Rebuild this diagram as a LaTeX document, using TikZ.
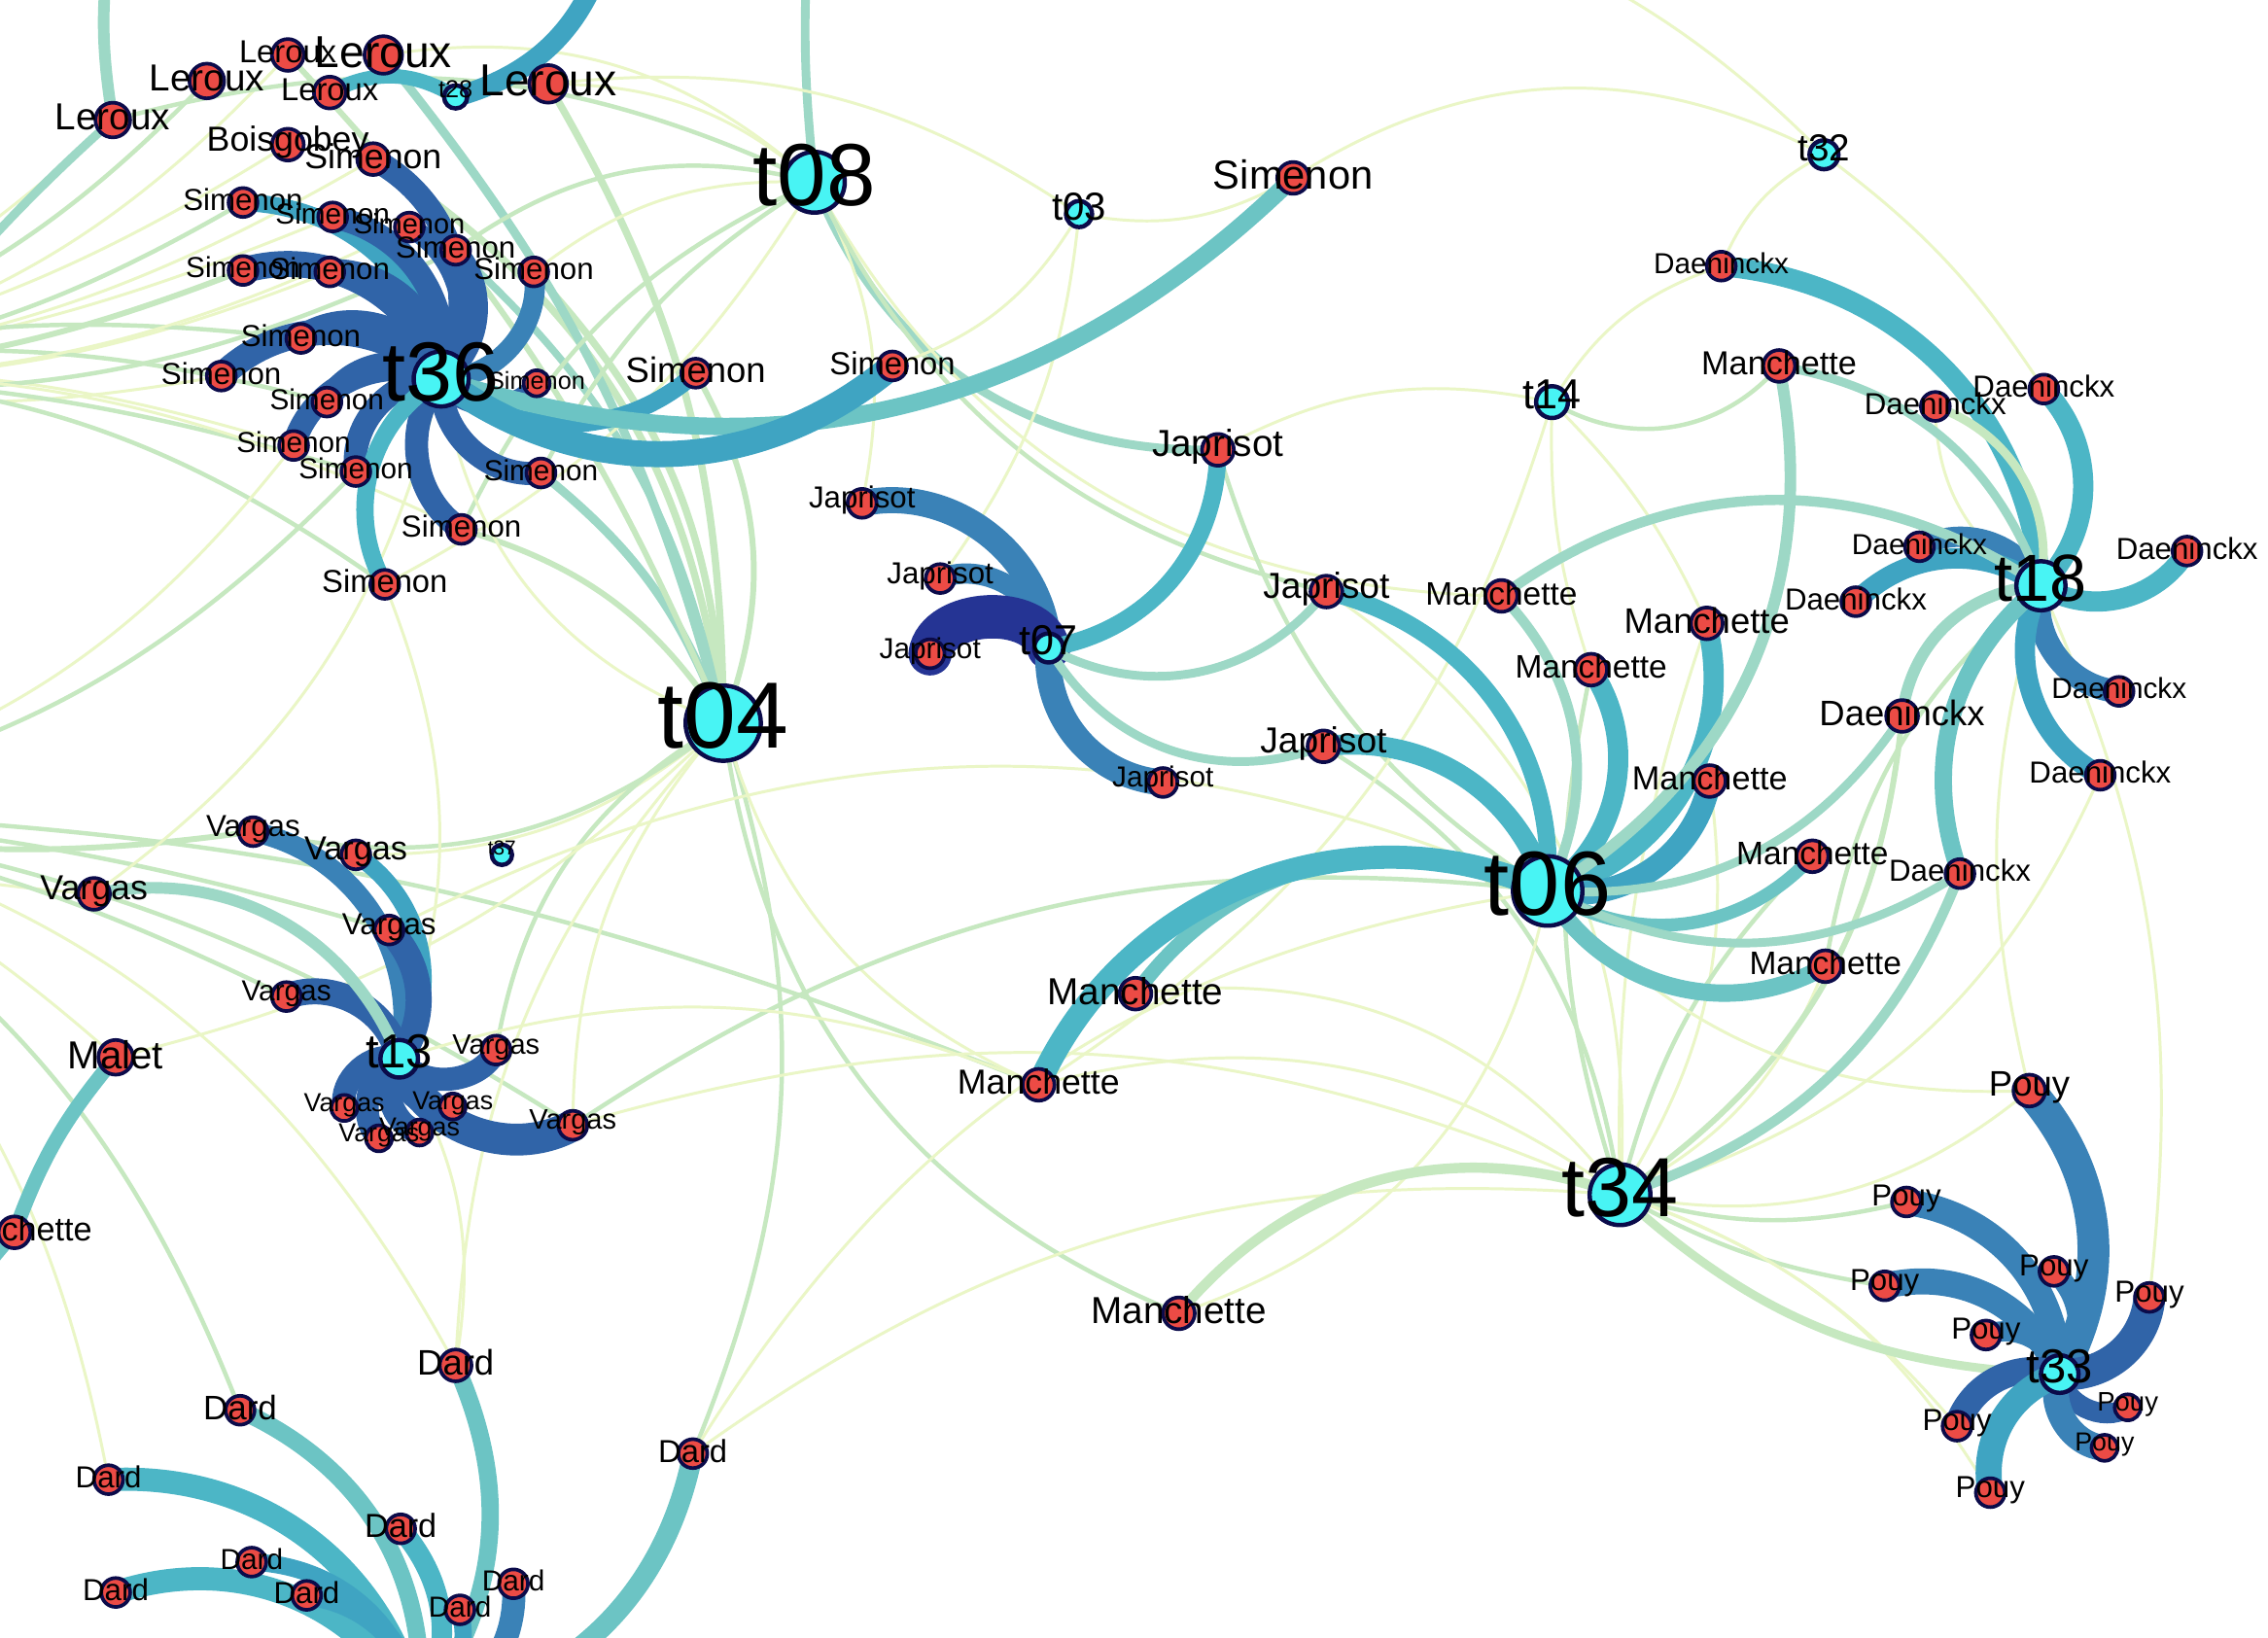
\documentclass[tikz,border=0pt]{standalone}
\usepackage{fontspec}
\setmainfont{Liberation Sans}
\pgfdeclarelayer{bg}\pgfdeclarelayer{pale}\pgfdeclarelayer{thick}\pgfdeclarelayer{lab}
\pgfsetlayers{bg,pale,thick,main,lab}
\definecolor{navy}{HTML}{0B0B4A}
\definecolor{leafred}{HTML}{EC4B45}
\definecolor{hubcyan}{HTML}{48F4F4}
\definecolor{cA}{HTML}{253494}
\definecolor{cB}{HTML}{3064A8}
\definecolor{cC}{HTML}{3A82B7}
\definecolor{cD}{HTML}{3FA4C2}
\definecolor{cE}{HTML}{4CB6C6}
\definecolor{cF}{HTML}{6CC4C4}
\definecolor{cG}{HTML}{9DD8C6}
\definecolor{cH}{HTML}{C6E8C0}
\definecolor{cI}{HTML}{EAF6C6}
\begin{document}
\begin{tikzpicture}[x=1pt,y=-1pt,
  leaf/.style={circle,fill=leafred,draw=navy,line width=2.5pt,inner sep=0pt},
  hub/.style={circle,fill=hubcyan,draw=navy,line width=3pt,inner sep=0pt},
  lab/.style={inner sep=0pt,text=black},
  edge/.style={line cap=round}]
\useasboundingbox (0,0) rectangle (1568,1132);
\begin{pgfonlayer}{bg}\fill[white] (0,0) rectangle (1568,1132);\end{pgfonlayer}
\clip (0,0) rectangle (1568,1132);
% off-canvas anchors
\coordinate (LH1) at (-200,260);
\coordinate (LH2) at (-200,560);
\coordinate (TOPL) at (80,-60);
\coordinate (TOPR) at (420,-40);
\coordinate (TOPC) at (560,-60);
\coordinate (TOPC2) at (700,-50);
\coordinate (BOT) at (290,1185);
\coordinate (LL) at (-40,920);
% hubs
\foreach \n/\x/\y/\r/\fs in {t04/500/500/26/65,t06/1070/616/24/63,t34/1120/826/21/58,t36/305/262/19/58,
  t08/563/126/21/61,t18/1411/405/17/46,t13/276/732/13/33,t33/1424/950/13/33,t07/725/448/10/29,
  t14/1073/278/11/29,t03/746/148/9/27,t32/1261/107/10/26,t28/315/67/8/17,t37/347/591/7/14}{
  \node[hub,minimum size={2*\r}] (\n) at (\x,\y) {};
  \begin{pgfonlayer}{lab}
  \node[lab,font=\fontsize{\fs}{\fs}\selectfont] (\n-l) at (\x,\y-5) {\n};
  \end{pgfonlayer}
}
% leaves
\foreach \n/\x/\y/\r/\fs/\tx in {
  L1/78/83/12/26/Leroux,L2/143/56/12/26/Leroux,L3/199/38/11/22/Leroux,L4/265/38/13/31/Leroux,
  L5/228/64/11/22/Leroux,L6/379/58/13/31/Leroux,B1/199/100/11/24/Boisgobey,
  S1/258/110/11/24/Simenon,S2/168/140/10/21/Simenon,S3/230/150/10/20/Simenon,S4/283/157/10/19.5/Simenon,
  S5/315/173/10/21/Simenon,S6/369/188/10/21/Simenon,S7/168/187/10/20/Simenon,S8/228/188/10/21/Simenon,
  S9/208/234/10/21/Simenon,S10/153/260/10/21/Simenon,S11/226/278/10/20/Simenon,S12/203/308/10/20/Simenon,
  S13/246/326/10/20/Simenon,S14/374/327/10/20/Simenon,S15/319/366/10/21/Simenon,S16/266/404/10/22/Simenon,
  S17/371/265/9/17/Simenon,S18/481/258/10/24.5/Simenon,S19/617/253/10/22/Simenon,S20/894/123/11/28/Simenon,
  J1/842/311/11/26/Japrisot,J2/596/348/10/21/Japrisot,J3/650/400/10/21/Japrisot,J4/643/452/10/20/Japrisot,
  J5/804/541/10/20/Japrisot,J6/917/409/11/25/Japrisot,J7/915/516/11/25/Japrisot,
  M1/1230/253/11/23/Manchette,M2/1038/412/11/22.5/Manchette,M3/1180/431/11/24.5/Manchette,
  M4/1100/463/11/22.5/Manchette,M5/1182/540/11/23/Manchette,M6/1253/592/11/22.5/Manchette,
  M7/1262/668/11/22.5/Manchette,M8/785/687/11/26/Manchette,M9/718/750/11/24/Manchette,
  M10/815/908/11/26/Manchette,M11/10/852/11/23/Manchette,Ma/80/731/12/27/Malet,
  D1/1190/184/10/20/Daeninckx,D2/1413/269/10/21/Daeninckx,D3/1338/281/10/21/Daeninckx,
  D4/1327/378/10/20/Daeninckx,D5/1283/416/10/21/Daeninckx,D6/1512/381/10/21/Daeninckx,
  D7/1465/478/10/20/Daeninckx,D8/1315/495/11/24.5/Daeninckx,D9/1452/536/10/21/Daeninckx,
  D10/1355/604/10/21/Daeninckx,
  V1/175/575/10/21/Vargas,V2/246/591/10/23/Vargas,V3/65/618/11/24/Vargas,V4/269/643/10/21/Vargas,
  V5/198/689/10/20/Vargas,V6/343/726/10/19.5/Vargas,V7/238/766/9/18/Vargas,V8/313/765/9/18/Vargas,
  V9/262/787/9/18/Vargas,V10/290/783/9/18/Vargas,V11/396/778/10/19.5/Vargas,
  P1/1403/754/11/24.5/Pouy,P2/1318/831/10/21/Pouy,P3/1420/879/10/21/Pouy,P4/1303/889/10/21/Pouy,
  P5/1486/897/10/21/Pouy,P6/1373/923/10/21/Pouy,P7/1471/973/9/18.5/Pouy,P8/1353/986/10/21/Pouy,
  P9/1455/1001/9/18/Pouy,P10/1376/1032/10/21/Pouy,
  Dd1/315/944/11/24.5/Dard,Dd2/166/975/10/23.5/Dard,Dd3/479/1005/10/22/Dard,Dd4/75/1023/10/21/Dard,
  Dd5/277/1057/10/23/Dard,Dd6/174/1080/10/20/Dard,Dd7/80/1101/10/21/Dard,Dd8/212/1103/10/21/Dard,
  Dd9/318/1113/10/20/Dard,Dd10/355/1095/10/20/Dard,Dd11/160/1146/10/21/Dard,Dd12/350/1148/10/21/Dard}{
  \node[leaf,minimum size={2*\r}] (\n) at (\x,\y) {};
  \begin{pgfonlayer}{lab}
  \node[lab,font=\fontsize{\fs}{\fs}\selectfont] (\n-l) at (\x,\y-2) {\tx};
  \end{pgfonlayer}
}
% pale background edges
\begin{pgfonlayer}{pale}
\foreach \a/\b/\c/\w/\bd in {
  LH1/L1/cI/2/10,LH1/L2/cH/3/15,LH1/B1/cI/2/10,LH1/S2/cH/3/12,LH1/S3/cI/2/8,LH1/S7/cH/4/10,
  LH1/S8/cI/2/12,LH1/S9/cH/3/-10,LH1/S10/cI/2/10,LH1/S11/cH/3/-12,LH1/S12/cI/2/-10,LH1/S13/cH/3/-8,
  LH1/S4/cI/2/14,LH1/S5/cH/3/16,LH1/L3/cI/2/18,LH1/S15/cI/2/-14,LH1/S16/cH/3/-18,LH1/S1/cI/2/12,
  LH2/V1/cH/4/10,LH2/V3/cI/2/8,LH2/V5/cH/3/-8,LH2/Ma/cI/2/-10,LH2/Dd2/cH/3/-20,LH2/Dd4/cI/2/-20,
  LH2/V4/cH/3/-6,LH2/S12/cI/2/20,LH2/S13/cH/3/18,LH2/Dd1/cI/2/-25,LH2/V11/cH/3/-12,LH2/M9/cH/3/-10,
  TOPL/L1/cG/8/10,L1/LH2/cG/6/18,TOPC/t08/cG/6/5,
  t04/S1/cH/5/25,t04/S6/cH/5/20,t04/S14/cG/6/15,t04/S15/cH/4/20,t04/L6/cH/5/15,t04/L4/cG/6/12,
  t04/S18/cH/4/25,t04/L3/cH/4/10,t04/S5/cG/5/18,t04/V2/cI/2/-20,t04/V6/cH/3/25,t04/V11/cI/2/20,
  t04/Dd3/cH/3/-20,t04/M10/cH/3/30,t04/M9/cI/2/25,t04/Dd1/cI/2/20,t04/V1/cH/3/-25,t04/Ma/cI/2/-15,
  t08/J1/cG/6/35,t08/S6/cI/2/20,t08/S5/cH/3/25,t08/L6/cI/2/20,t08/L4/cI/2/25,t08/M2/cI/2/30,
  t08/S14/cH/3/15,t08/S15/cH/3/20,t08/J2/cI/2/-20,t08/J6/cH/3/25,t08/S16/cI/2/-15,t08/L1/cH/3/20,
  t34/M5/cI/2/20,t34/M6/cH/3/-15,t34/M7/cI/2/20,t34/D8/cH/4/25,t34/D9/cI/2/25,t34/P1/cI/2/25,
  t34/P2/cH/3/15,t34/P4/cH/3/10,t34/M8/cI/2/30,t34/M9/cI/2/25,t34/J7/cH/3/25,t34/J6/cI/2/30,
  t34/Dd3/cI/2/20,t34/V11/cI/2/20,t34/M3/cI/2/-10,t34/M4/cH/3/-15,t34/P8/cI/2/-15,t34/P10/cI/2/-20,
  t06/M10/cI/2/-30,t06/P1/cI/2/25,t06/Dd3/cI/2/25,t06/V11/cH/3/20,t06/V4/cI/2/25,t06/J1/cH/3/-20,
  t14/M1/cH/3/40,t14/M4/cI/2/10,t14/M3/cI/2/-10,t14/J1/cI/2/20,t14/D1/cI/2/-20,t14/M9/cI/2/-20,
  t32/D1/cI/2/20,t32/D2/cI/2/-10,t32/TOPC2/cI/2/30,t32/S20/cI/2/30,
  t03/S20/cI/2/20,t03/S19/cI/2/-20,t03/L6/cI/2/20,t03/J3/cI/2/-15,
  t18/P1/cI/2/15,t18/P5/cI/2/-15,t18/M7/cH/3/20,t18/D3/cI/2/-30,
  t13/S16/cI/2/20,t13/Dd1/cI/2/-20,t13/M9/cI/2/-20,t36/V3/cI/2/-20,t36/t04/cI/2/30}{
  \draw[edge,draw=\c,line width=\w pt] (\a.center) to[bend right=\bd] (\b.center);
}
\end{pgfonlayer}
% main coloured edges
\begin{pgfonlayer}{thick}
\foreach \a/\b/\c/\w/\bd in {
  t36/S1/cB/16/45,t36/S2/cD/12/40,t36/S3/cB/16/45,t36/S4/cB/14/50,t36/S5/cB/14/50,t36/S6/cC/14/50,
  t36/S7/cB/18/45,t36/S8/cB/18/45,t36/S9/cB/18/50,t36/S10/cB/18/45,t36/S11/cB/16/50,t36/S12/cB/16/50,
  t36/S13/cB/16/50,t36/S14/cB/16/50,t36/S15/cB/16/50,t36/S16/cE/12/45,t36/S17/cB/14/60,
  t36/S18/cD/12/40,t36/S20/cF/12/31,t36/S19/cD/18/38,
  t28/L5/cE/10/30,t28/TOPR/cD/14/30,
  t07/J2/cC/18/50,t07/J3/cC/14/55,t07/J4/cA/30/78,t07/J5/cC/18/45,t07/J1/cE/12/40,
  t07/J6/cG/6/40,t07/J7/cG/6/40,
  t06/J6/cE/12/40,t06/J7/cE/14/40,t06/M2/cG/7/35,t06/M3/cE/14/45,t06/M4/cE/14/45,t06/M5/cD/16/45,
  t06/M6/cF/9/40,t06/M7/cF/12/45,t06/M8/cF/10/40,t06/M9/cE/16/45,t06/M1/cG/8/35,t06/D8/cG/6/30,
  t06/D10/cG/6/30,
  t18/D1/cE/14/40,t18/D2/cE/14/45,t18/D3/cH/6/40,t18/D4/cC/14/45,t18/D5/cD/14/40,t18/D6/cE/14/45,
  t18/D7/cC/16/50,t18/D8/cG/8/40,t18/D9/cD/14/45,t18/D10/cF/12/35,t18/M1/cG/6/30,t18/M2/cG/7/35,
  t34/M10/cH/7/35,t34/D10/cG/7/25,t34/t33/cH/6/20,
  t13/V1/cC/14/45,t13/V2/cD/12/45,t13/V4/cB/18/40,t13/V5/cB/18/50,t13/V6/cB/16/60,t13/V7/cB/16/60,
  t13/V8/cB/16/60,t13/V9/cB/16/60,t13/V10/cB/16/60,t13/V11/cB/22/50,t13/V3/cG/8/40,
  t33/P1/cC/22/35,t33/P2/cC/18/40,t33/P3/cC/14/45,t33/P4/cC/18/40,t33/P5/cB/22/45,t33/P6/cC/14/50,
  t33/P7/cB/14/60,t33/P8/cB/18/45,t33/P9/cC/18/55,t33/P10/cD/18/40,
  BOT/Dd1/cF/12/30,BOT/Dd2/cF/12/35,BOT/Dd3/cF/14/35,BOT/Dd4/cE/16/40,BOT/Dd5/cE/14/35,
  BOT/Dd6/cD/12/40,BOT/Dd7/cE/16/40,BOT/Dd8/cD/14/40,BOT/Dd9/cD/12/35,BOT/Dd10/cC/16/40,
  BOT/Dd11/cC/14/30,BOT/Dd12/cD/14/30,
  Ma/M11/cF/10/10,M11/LL/cF/10/5}{
  \draw[edge,draw=\c,line width=\w pt] (\a.center) to[bend right=\bd] (\b.center);
}
\end{pgfonlayer}
\end{tikzpicture}
\end{document}
